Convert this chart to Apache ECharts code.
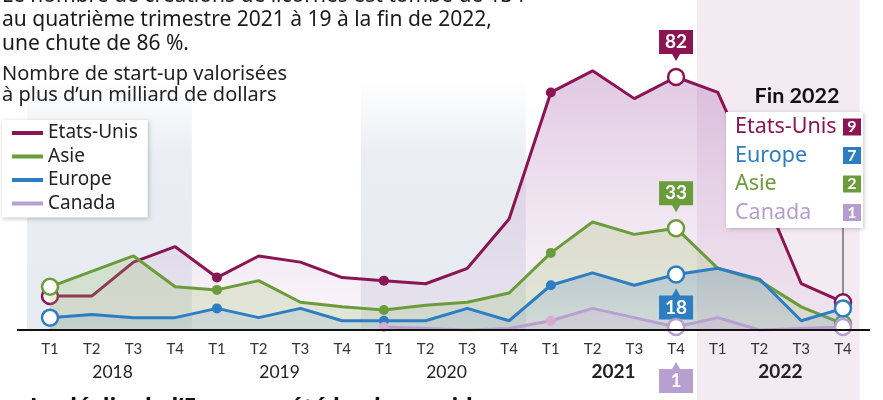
<!DOCTYPE html>
<html><head><meta charset="utf-8">
<script src="https://cdn.jsdelivr.net/npm/echarts@6/dist/echarts.min.js"></script>
<style>html,body{margin:0;padding:0;background:#fff;overflow:hidden}#c{width:883px;height:400px}</style>
</head><body><div id="c"></div>
<script>
// ---- data ----
const categories = ['T1 2018','T2 2018','T3 2018','T4 2018','T1 2019','T2 2019','T3 2019','T4 2019',
  'T1 2020','T2 2020','T3 2020','T4 2020','T1 2021','T2 2021','T3 2021','T4 2021',
  'T1 2022','T2 2022','T3 2022','T4 2022'];
const tickLabels = ['T1','T2','T3','T4','T1','T2','T3','T4','T1','T2','T3','T4','T1','T2','T3','T4','T1','T2','T3','T4'];
const yearLabels = ['2018','2019','2020','2021','2022'];
const seriesNames = ['Etats-Unis','Asie','Europe','Canada'];
const etatsUnis = [11, 11, 22, 27, 17, 24, 22, 17, 16, 15, 20, 36, 77, 84, 75, 82, 77, 47, 15, 9];
const asie      = [14, 19, 24, 14, 13, 16, 9, 7.5, 6.5, 8, 9, 12, 25, 35, 31, 33, 20, 16, 7.5, 2];
const europe    = [4, 5, 4, 4, 7, 4, 7, 3, 3, 3, 7, 3, 14.5, 18.5, 14.5, 18, 20, 16.5, 3, 7];
const canada    = [null, null, null, null, null, null, null, null, 1, 0.5, 0, 0.5, 3, 7, 4, 1, 4, 0, 0.5, 1];

const COL = {us:'#8b1453', asie:'#6b9c3a', eu:'#2d7dc2', ca:'#b7a0cf'};
const FONT = 'Lato';
const TFONT = '"Noto Sans"';

const dotIdx = [4, 8, 12];
const ringIdx = [0, 15, 19];
function items(values, color, dotColor) {
  return values.map((v, i) => {
    if (v == null) return '-';
    if (dotIdx.includes(i)) return {value: v, symbol: 'circle', symbolSize: 10, itemStyle: {color: dotColor, borderWidth: 0}};
    if (ringIdx.includes(i)) return {value: v, symbol: 'circle', symbolSize: 16, itemStyle: {color: '#fff', borderColor: color, borderWidth: 2.5}};
    return {value: v, symbol: 'none'};
  });
}
const downPath = 'path://M0,0 L34,0 L34,24 L21,24 L17,31 L13,24 L0,24 Z';
const upPath = 'path://M13,7 L17,0 L21,7 L34,7 L34,31 L0,31 L0,7 Z';
function callout(idx, val, color, up, off) {
  return {
    symbol: up ? upPath : downPath, symbolSize: [34, 31], symbolKeepAspect: false,
    silent: true,
    data: [{coord: [categories[idx], val], value: val, symbolOffset: [0, off]}],
    itemStyle: {color: color},
    label: {show: true, position: 'inside', offset: [0, up ? 3.5 : -3.5], color: '#fff',
      fontFamily: FONT, fontWeight: 'bold', fontSize: 19, formatter: '{c}'}
  };
}
function grad(stops) {
  return new echarts.graphic.LinearGradient(0, 0, 0, 1, stops.map((c, i) => ({offset: i / (stops.length - 1), color: c})));
}

const chart = echarts.init(document.getElementById('c'), null, {renderer: 'canvas'});
const option = {
  animation: false,
  backgroundColor: '#fff',
  textStyle: {fontFamily: FONT},
  grid: {left: 50, right: 40, top: 21.5, bottom: 70},
  xAxis: {
    type: 'category', data: categories, boundaryGap: false,
    axisLine: {show: false}, axisTick: {show: false}, splitLine: {show: false},
    axisLabel: {interval: 0, margin: 12, color: '#333', fontSize: 15, fontFamily: FONT,
      formatter: (v, i) => tickLabels[i]}
  },
  yAxis: {type: 'value', min: 0, max: 100, show: false},
  legend: {
    data: seriesNames, orient: 'vertical', left: 2, top: 120, icon: 'rect',
    itemWidth: 31, itemHeight: 4, itemGap: 3.5, itemTextGap: 8,
    padding: [3, 10, 4, 10], backgroundColor: '#fff',
    shadowBlur: 4, shadowColor: 'rgba(0,0,0,0.22)', shadowOffsetX: 1, shadowOffsetY: 1,
    textStyle: {fontSize: 19, fontFamily: 'Noto Sans', color: '#222', lineHeight: 20},
    selectedMode: false
  },
  series: [
    {name: 'Etats-Unis', type: 'line', z: 2, data: items(etatsUnis, COL.us, COL.us), color: COL.us,
      showSymbol: true, showAllSymbol: true, symbol: 'circle', silent: true,
      lineStyle: {width: 3, color: COL.us},
      areaStyle: {color: grad(['rgba(175,110,180,0.55)', 'rgba(195,150,200,0.38)', 'rgba(225,195,225,0.25)'])},
      markPoint: callout(15, etatsUnis[15], COL.us, false, -31.5)},
    {name: 'Asie', type: 'line', z: 3, data: items(asie, COL.asie, COL.asie), color: COL.asie,
      showSymbol: true, showAllSymbol: true, symbol: 'circle', silent: true,
      lineStyle: {width: 3, color: COL.asie},
      areaStyle: {color: 'rgba(150,185,95,0.33)'},
      markPoint: callout(15, asie[15], COL.asie, false, -31.5)},
    {name: 'Europe', type: 'line', z: 4, data: items(europe, COL.eu, COL.eu), color: COL.eu,
      showSymbol: true, showAllSymbol: true, symbol: 'circle', silent: true,
      lineStyle: {width: 3, color: COL.eu},
      areaStyle: {color: grad(['rgba(80,135,200,0.38)', 'rgba(120,160,215,0.22)'])},
      markPoint: callout(15, europe[15], COL.eu, true, 29.5)},
    {name: 'Canada', type: 'line', z: 5, data: items(canada, COL.ca, '#d9aad2'), color: COL.ca,
      showSymbol: true, showAllSymbol: true, symbol: 'circle', silent: true,
      lineStyle: {width: 3, color: COL.ca},
      areaStyle: {color: 'rgba(205,165,220,0.3)'},
      markPoint: callout(15, canada[15], COL.ca, true, 50.5)}
  ]
};
chart.setOption(option);

// decorations computed from the axes
const x0 = chart.convertToPixel({xAxisIndex: 0}, categories[0]);
const x1 = chart.convertToPixel({xAxisIndex: 0}, categories[1]);
const step = x1 - x0;
const xf = f => x0 + f * step;
const yb = chart.convertToPixel({yAxisIndex: 0}, 0);
const g = [];
// year bands
[0, 2].forEach(k => {
  g.push({type: 'rect', z: -10, silent: true,
    shape: {x: xf(k * 4 - 0.55), y: 80, width: step * 3.95, height: yb - 80},
    style: {fill: new echarts.graphic.LinearGradient(0, 0, 0, 1, [
      {offset: 0, color: 'rgba(234,238,243,0)'}, {offset: 0.3, color: 'rgba(234,238,243,1)'}, {offset: 1, color: '#e6ebf1'}])}});
});
g.push({type: 'rect', z: -10, silent: true,
  shape: {x: xf(15.5), y: 0, width: step * 3.9, height: 400}, style: {fill: '#f4eaf2'}});
// axis line
g.push({type: 'line', z: 50, silent: true, shape: {x1: 17, y1: yb, x2: 870, y2: yb}, style: {stroke: '#111', lineWidth: 2}});
// year labels
yearLabels.forEach((y, k) => {
  const bold = k >= 3;
  g.push({type: 'text', z: 50, silent: true, x: xf(k * 4 + 1.5), y: 372,
    style: {text: y, fill: '#222', font: (bold ? 'bold 19px ' : '17.5px ') + FONT, align: 'center', verticalAlign: 'middle'}});
});
// titles
const titleLines = ['Le nombre de créations de licornes est tombé de 134',
  'au quatrième trimestre 2021 à 19 à la fin de 2022,', 'une chute de 86 %.'];
titleLines.forEach((t, k) => g.push({type: 'text', z: 50, silent: true, x: 2, y: -4 + k * 24,
  style: {text: t, fill: '#1a1a1a', font: '21px ' + TFONT, verticalAlign: 'middle'}}));
['Nombre de start-up valorisées', 'à plus d’un milliard de dollars'].forEach((t, k) =>
  g.push({type: 'text', z: 50, silent: true, x: 2, y: 74 + k * 21,
    style: {text: t, fill: '#222', font: '20px ' + TFONT, verticalAlign: 'middle'}}));
g.push({type: 'text', z: 50, silent: true, x: 30, y: 408,
  style: {text: 'Le déclin de l’Europe a été le plus rapide', fill: '#111', font: 'bold 23px ' + TFONT, verticalAlign: 'middle'}});
// right box "Fin 2022"
const endVals = [etatsUnis[19], europe[19], asie[19], canada[19]];
const endNames = ['Etats-Unis', 'Europe', 'Asie', 'Canada'];
const endCols = [COL.us, COL.eu, COL.asie, '#b59dcf'];
const xe = xf(19);
g.push({type: 'line', z: 40, silent: true, shape: {x1: xe, y1: 228, x2: xe, y2: chart.convertToPixel({yAxisIndex: 0}, etatsUnis[19]) - 8},
  style: {stroke: '#333', lineWidth: 1}});
g.push({type: 'text', z: 60, silent: true, x: 797, y: 96,
  style: {text: 'Fin 2022', fill: '#111', font: 'bold 21.5px ' + FONT, align: 'center', verticalAlign: 'middle'}});
g.push({type: 'rect', z: 60, silent: true, shape: {x: 726, y: 112, width: 137, height: 116},
  style: {fill: '#fff', shadowBlur: 4, shadowColor: 'rgba(0,0,0,0.22)', shadowOffsetX: 1, shadowOffsetY: 1}});
endNames.forEach((n, k) => {
  const cy = 127 + k * 28.5;
  g.push({type: 'text', z: 61, silent: true, x: 735, y: cy,
    style: {text: n, fill: endCols[k], font: '21.5px ' + TFONT, verticalAlign: 'middle'}});
  g.push({type: 'rect', z: 61, silent: true, shape: {x: 843, y: cy - 8.5, width: 18, height: 17}, style: {fill: endCols[k]}});
  g.push({type: 'text', z: 62, silent: true, x: 852, y: cy,
    style: {text: String(endVals[k]), fill: '#fff', font: 'bold 16px ' + FONT, align: 'center', verticalAlign: 'middle'}});
});
chart.setOption({graphic: g});
</script></body></html>
